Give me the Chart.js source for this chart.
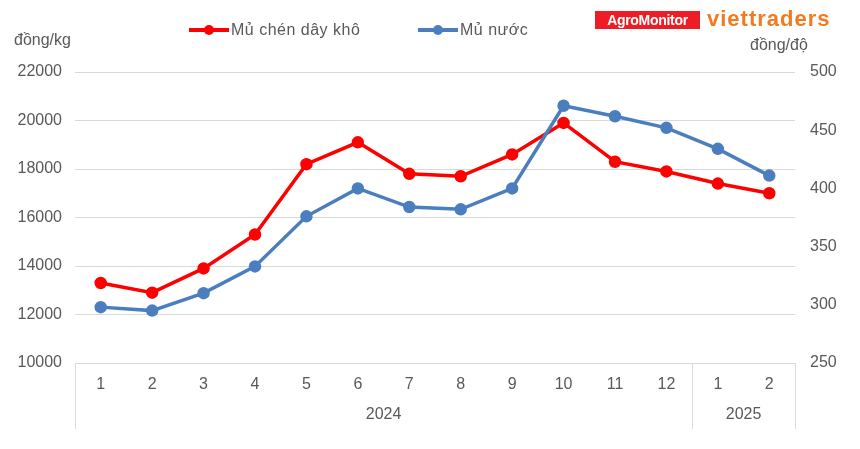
<!DOCTYPE html>
<html>
<head>
<meta charset="utf-8">
<script src="https://cdn.jsdelivr.net/npm/chart.js@4.4.1/dist/chart.umd.min.js"></script>
<style>
  html, body { margin: 0; padding: 0; background: #fff; }
  #wrap { position: relative; width: 860px; height: 449px; font-family: "Liberation Sans", Arial, sans-serif; color: #595959; }
  canvas { position: absolute; left: 0; top: 0; }
  .lbl { position: absolute; font-size: 16px; white-space: nowrap; }
  .leg { position: absolute; top: 21px; font-size: 16px; display: flex; align-items: center; white-space: nowrap; letter-spacing: 0.5px; }
  .leg .mk { position: relative; width: 40px; height: 4px; margin-right: 2px; }
  .leg .mk i { position: absolute; left: 15px; top: -3px; width: 10px; height: 10px; border-radius: 50%; }
  #agro { position: absolute; left: 595px; top: 11px; width: 105px; height: 18px; background: #ee1c25; color: #fff; font-weight: bold; font-size: 14px; line-height: 18px; text-align: center; letter-spacing: -0.3px; }
  #vt { position: absolute; left: 707px; top: 6px; color: #f47a20; font-weight: bold; font-size: 22px; letter-spacing: 1px; }
</style>
</head>
<body>
<div id="wrap">
  <canvas id="c" width="860" height="449"></canvas>
  <div class="lbl" style="left:14px; top:31px;">đồng/kg</div>
  <div class="lbl" style="left:750px; top:36px;">đồng/độ</div>
  <div class="leg" style="left:189px;"><span class="mk" style="background:#ff0000"><i style="background:#ff0000"></i></span>Mủ chén dây khô</div>
  <div class="leg" style="left:418px;"><span class="mk" style="background:#4a7ebf"><i style="background:#4a7ebf"></i></span>Mủ nước</div>
  <div id="agro">AgroMonitor</div>
  <div id="vt">viettraders</div>
</div>
<script>
// tháng (2024: 1-12, 2025: 1-2)
const months = ['1', '2', '3', '4', '5', '6', '7', '8', '9', '10', '11', '12', '1', '2'];
const years = [
  { label: '2024', count: 12 },
  { label: '2025', count: 2 }
];
// đồng/kg (trục trái)
const muChenDayKho = [13300, 12900, 13900, 15300, 18200, 19100, 17800, 17700, 18600, 19900, 18300, 17900, 17400, 17000];
// đồng/độ (trục phải)
const muNuoc = [298, 295, 310, 333, 376, 400, 384, 382, 400, 471, 462, 452, 434, 411];

const gridColor = '#d9d9d9';
const textColor = '#595959';
const font = { family: '"Liberation Sans", Arial, sans-serif', size: 16 };

// second row of the category axis: years with separators
const yearRow = {
  id: 'yearRow',
  afterDraw(chart) {
    const ctx = chart.ctx;
    const x = chart.scales.x;
    const area = chart.chartArea;
    const step = x.getPixelForValue(1) - x.getPixelForValue(0);
    const bottom = area.bottom + 66;
    ctx.save();
    ctx.strokeStyle = gridColor;
    ctx.lineWidth = 1;
    ctx.fillStyle = textColor;
    ctx.font = `${font.size}px ${font.family}`;
    ctx.textAlign = 'center';
    ctx.textBaseline = 'middle';
    let start = 0;
    const edge = i => x.getPixelForValue(i) - step / 2;
    ctx.beginPath();
    ctx.moveTo(Math.round(edge(0)) + 0.5, area.bottom);
    ctx.lineTo(Math.round(edge(0)) + 0.5, bottom);
    ctx.stroke();
    years.forEach(y => {
      const l = edge(start);
      const r = edge(start + y.count);
      ctx.beginPath();
      ctx.moveTo(Math.round(r) + 0.5, area.bottom);
      ctx.lineTo(Math.round(r) + 0.5, bottom);
      ctx.stroke();
      ctx.fillText(y.label, (l + r) / 2, area.bottom + 52);
      start += y.count;
    });
    ctx.restore();
  }
};

new Chart(document.getElementById('c'), {
  type: 'line',
  data: {
    labels: months,
    datasets: [{
      label: 'Mủ chén dây khô',
      data: muChenDayKho,
      yAxisID: 'y',
      borderColor: '#ff0000',
      backgroundColor: '#ff0000',
      borderWidth: 3.5,
      pointRadius: 4.5,
      pointHoverRadius: 4.5,
      order: 2
    }, {
      label: 'Mủ nước',
      data: muNuoc,
      yAxisID: 'y1',
      borderColor: '#4a7ebf',
      backgroundColor: '#4a7ebf',
      borderWidth: 3.5,
      pointRadius: 4.5,
      pointHoverRadius: 4.5,
      order: 1
    }]
  },
  options: {
    responsive: false,
    animation: false,
    layout: { padding: { top: 72, left: 0, right: 0, bottom: 0 } },
    plugins: {
      legend: { display: false },
      tooltip: { enabled: false }
    },
    scales: {
      x: {
        offset: true,
        grid: { display: false, drawTicks: false },
        border: { color: gridColor },
        ticks: { color: textColor, font: font, padding: 12, maxRotation: 0, autoSkip: false },
        afterFit: s => { s.height = 86; }
      },
      y: {
        position: 'left',
        min: 10000,
        max: 22000,
        grid: { color: gridColor, drawTicks: false },
        border: { display: false },
        ticks: { stepSize: 2000, color: textColor, font: font, padding: 13, callback: v => String(v) },
        afterFit: s => { s.width = 75; }
      },
      y1: {
        position: 'right',
        min: 250,
        max: 500,
        grid: { display: false, drawTicks: false },
        border: { display: false },
        ticks: { stepSize: 50, color: textColor, font: font, padding: 15, callback: v => String(v) },
        afterFit: s => { s.width = 65; }
      }
    }
  },
  plugins: [yearRow]
});
</script>
</body>
</html>
